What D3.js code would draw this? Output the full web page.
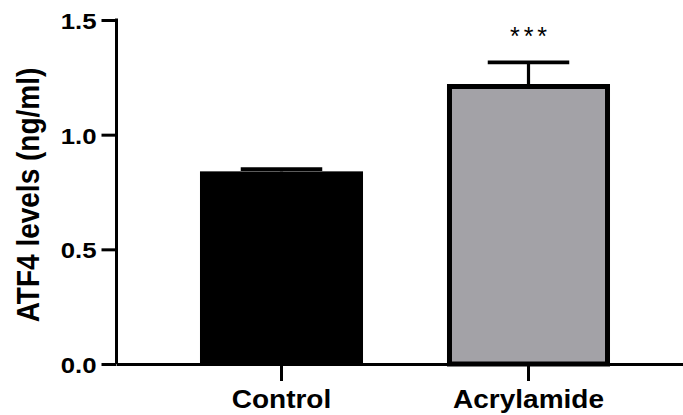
<!DOCTYPE html>
<html>
<head>
<meta charset="utf-8">
<script src="https://cdn.jsdelivr.net/npm/d3@7"></script>
<style>
  html, body { margin: 0; padding: 0; background: #fff; }
  svg { display: block; }
  text { font-family: "Liberation Sans", Arial, sans-serif; font-weight: bold; fill: #000; }
</style>
</head>
<body>
<script>
// ATF4 levels, mean ± SEM per group
const categories = ["Control", "Acrylamide"];
const means = [0.84, 1.21];
const sems = [0.01, 0.105];
const significance = ["", "***"];
const yTicks = [0.0, 0.5, 1.0, 1.5];
const yTitle = "ATF4 levels (ng/ml)";

const W = 683, H = 415;
const stretch = 1.12; // glyphs are slightly wide in this figure
const barFills = ["#000000", "#a3a2a7"];

const svg = d3.select("body").append("svg").attr("width", W).attr("height", H);

const axisX = 116.5, axisY = 364;
const y = d3.scaleLinear().domain([0, 1.5]).range([axisY, 20]);
const x = d3.scaleBand().domain(categories)
  .range([axisX, axisX + 247 * 2.336])
  .paddingInner(0.34).paddingOuter(0.338);

// Bars
const bw = x.bandwidth();
svg.append("g").selectAll("rect").data(categories).join("rect")
  .attr("x", (d, i) => i === 0 ? x(d) : x(d) + 2.5)
  .attr("width", (d, i) => i === 0 ? bw : bw - 5)
  .attr("y", (d, i) => y(means[i]))
  .attr("height", (d, i) => axisY - y(means[i]))
  .attr("fill", (d, i) => barFills[i])
  .attr("stroke", "#000")
  .attr("stroke-width", (d, i) => i === 0 ? 0 : 5);

// Error bars (upper half)
const capW = bw / 2;
const eb = svg.append("g").attr("stroke", "#000").attr("fill", "none");
categories.forEach((c, i) => {
  const cx = x(c) + bw / 2;
  eb.append("line").attr("x1", cx).attr("x2", cx)
    .attr("y1", y(means[i])).attr("y2", y(means[i] + sems[i]))
    .attr("stroke-width", 3.2);
  eb.append("line").attr("x1", cx - capW / 2).attr("x2", cx + capW / 2)
    .attr("y1", y(means[i] + sems[i])).attr("y2", y(means[i] + sems[i]))
    .attr("stroke-width", 3.8);
  if (significance[i]) {
    svg.append("text")
      .attr("transform", `translate(${cx + 2},${y(means[i] + sems[i]) - 17})`)
      .attr("text-anchor", "middle")
      .style("font-weight", "normal")
      .style("font-size", "25px")
      .style("letter-spacing", "4px")
      .text(significance[i]);
  }
});

// Y axis
const gy = svg.append("g").attr("transform", `translate(${axisX},0)`)
  .call(d3.axisLeft(y).tickValues(yTicks).tickFormat(d3.format(".1f")).tickSize(15).tickSizeOuter(0));
gy.select(".domain").attr("stroke-width", 3).attr("d", `M0,${y(1.5) - 1.5}V${axisY}`);
gy.selectAll(".tick line").attr("stroke-width", 3);
gy.selectAll(".tick text")
  .attr("x", null).attr("dy", null)
  .attr("dominant-baseline", "central")
  .attr("transform", `translate(-20,0.5) scale(${stretch},1)`)
  .style("font-size", "23px");

// X axis
const gx = svg.append("g").attr("transform", `translate(0,${axisY})`)
  .call(d3.axisBottom(x).tickSize(17).tickSizeOuter(0));
gx.select(".domain").attr("stroke-width", 3);
gx.selectAll(".tick line").attr("stroke-width", 3);
gx.selectAll(".tick text")
  .attr("y", null).attr("dy", null)
  .attr("transform", `translate(0,44) scale(${stretch},1)`)
  .style("font-size", "25px");
svg.selectAll(".domain, .tick line").attr("stroke", "#000");

// Y axis title
svg.append("text")
  .attr("transform", `translate(28,${(y(0) + y(1.5)) / 2 + 3}) scale(${stretch},1) rotate(-90)`)
  .attr("text-anchor", "middle")
  .attr("dominant-baseline", "central")
  .style("font-size", "28px")
  .text(yTitle);
</script>
</body>
</html>
